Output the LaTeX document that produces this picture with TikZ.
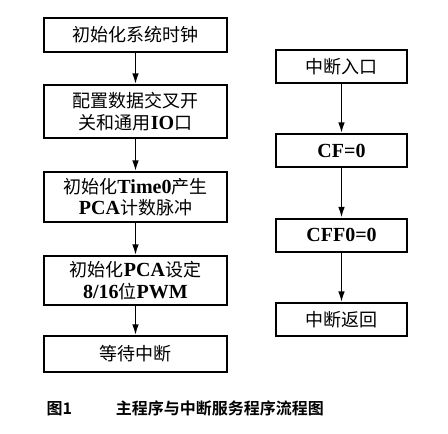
\documentclass[tikz,border=0pt]{standalone}
\usepackage{fontspec}
\setmainfont{Liberation Serif}
\newfontfamily\cjk{Noto Sans CJK SC}[BoldFont={Noto Sans CJK SC Bold}]
\usetikzlibrary{arrows.meta}
\newcommand{\lat}[1]{{\rmfamily\bfseries\fontsize{15}{16}\selectfont #1}}
\tikzset{every picture/.style={line width=0.75pt}}
\tikzset{
  box/.style={draw, line width=1.5pt, inner sep=0pt, align=center,
    font=\cjk\fontsize{13.5}{16}\selectfont},
  mainbox/.style={box, minimum width=137.25pt},
  isrbox/.style={box, minimum width=98.25pt, minimum height=24.75pt},
  flow/.style={draw, line width=1.1pt, -{Latex[length=8pt,width=5pt]}},
}

\begin{document}
\begin{tikzpicture}[x=0.75pt,y=0.75pt,yscale=-1,xscale=1]
\useasboundingbox (0,0) rectangle (448,433);

% Main program
\node [mainbox, minimum height=25.5pt] (clk) at (135.5,35) {初始化系统时钟};
\node [mainbox, minimum height=39.75pt] (xbar) at (135.5,111.5) {配置数据交叉开\\关和通用\lat{IO}口};
\node [mainbox, minimum height=37.5pt] (timer) at (135.5,197) {初始化\lat{Time0}产生\\\lat{PCA}计数脉冲};
\node [mainbox, minimum height=36.75pt] (pca) at (135.5,280.5) {初始化\lat{PCA}设定\\\lat{8/16}位\lat{PWM}};
\node [mainbox, minimum height=27pt] (wait) at (135.5,354) {等待中断};

\draw [flow] (clk.south) -- (xbar.north);
\draw [flow] (xbar.south) -- (timer.north);
\draw [flow] (timer.south) -- (pca.north);
\draw [flow] (pca.south) -- (wait.north);

% Interrupt service routine
\node [isrbox] (entry) at (341.5,66.5) {中断入口};
\node [isrbox] (cf) at (341.5,150.5) {\lat{CF=0}};
\node [isrbox] (cff) at (341.5,235) {\lat{CFF0=0}};
\node [isrbox] (ret) at (341.5,319.5) {中断返回};

\draw [flow] (entry.south) -- (cf.north);
\draw [flow] (cf.south) -- (cff.north);
\draw [flow] (cff.south) -- (ret.north);

% Text Node
\node [anchor=west, inner sep=0pt, font=\cjk\bfseries\fontsize{12}{14}\selectfont] (cap) at (46,408) {图1\hspace{33pt}主程序与中断服务程序流程图};

\end{tikzpicture}
\end{document}
